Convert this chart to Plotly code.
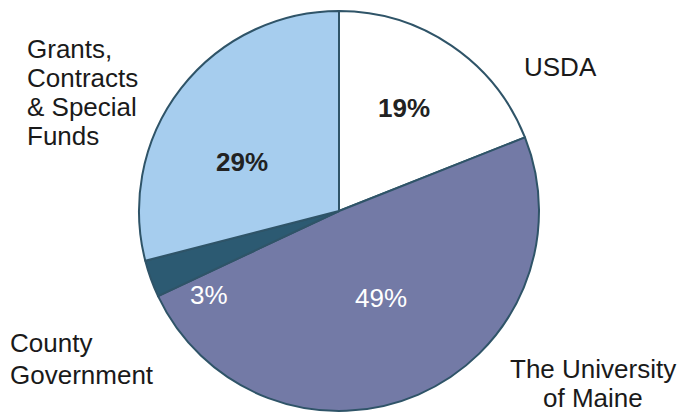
import plotly.graph_objects as go

categories = ["USDA", "The University of Maine", "County Government", "Grants, Contracts & Special Funds"]
values = [19, 49, 3, 29]
label_lines = [["USDA"], ["The University", "of Maine"], ["County", "Government"],
               ["Grants,", "Contracts", "&amp; Special", "Funds"]]
colors = ["#ffffff", "#737aa6", "#2c5a72", "#a6cdee"]

W, H = 681, 416
FONT = "Liberation Sans, Arial, sans-serif"

fig = go.Figure(go.Pie(
    labels=categories,
    values=values,
    sort=False,
    direction="clockwise",
    rotation=0,
    textinfo="none",
    hoverinfo="label+percent",
    marker=dict(colors=colors, line=dict(color="#2f5468", width=2)),
    domain=dict(x=[139 / W, 539 / W], y=[1 - 411 / H, 1 - 11 / H]),
    showlegend=False,
))

def px(x, y):
    return x / W, 1 - y / H

# percentage labels (text from values)
pct_pos = [(404, 108), (381, 298), (209, 295), (242, 162)]
pct_style = [("#222222", True), ("#ffffff", False), ("#ffffff", False), ("#222222", True)]
annotations = []
for v, (x, y), (c, b) in zip(values, pct_pos, pct_style):
    ax, ay = px(x, y)
    txt = f"{v}%"
    if b:
        txt = f"<b>{txt}</b>"
    annotations.append(dict(x=ax, y=ay, xref="paper", yref="paper", text=txt,
                            showarrow=False, xanchor="center", yanchor="middle",
                            font=dict(family=FONT, size=26, color=c)))

# category labels, one annotation per line (x, first-line centre y, spacing, anchor)
lab_pos = [(522, 67, 0, "left"), (593, 369, 29, "center"),
           (8, 343, 32, "left"), (25, 49, 29, "left")]
for lines, (x, y0, dy, xa) in zip(label_lines, lab_pos):
    for i, t in enumerate(lines):
        ax, ay = px(x, y0 + i * dy)
        annotations.append(dict(x=ax, y=ay, xref="paper", yref="paper", text=t,
                                showarrow=False, xanchor=xa, yanchor="middle",
                                font=dict(family=FONT, size=26, color="#1a1a1a")))

fig.update_layout(
    width=W, height=H,
    margin=dict(l=0, r=0, t=0, b=0),
    paper_bgcolor="white",
    plot_bgcolor="white",
    annotations=annotations,
)

fig.write_html("out.html", config={"displayModeBar": False},
               post_script="document.body.style.margin='0px';")
